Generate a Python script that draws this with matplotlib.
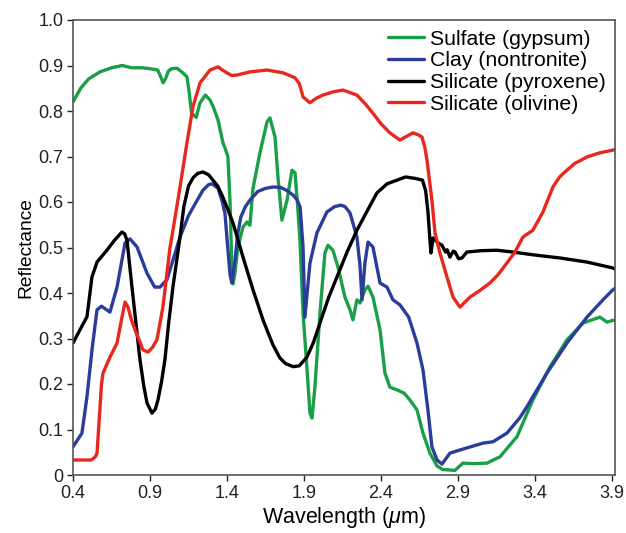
import matplotlib
matplotlib.use("Agg")
import matplotlib.pyplot as plt

plt.rcParams['font.family'] = ['Liberation Sans', 'DejaVu Sans']
plt.rcParams['mathtext.fontset'] = 'custom'
plt.rcParams['mathtext.rm'] = 'Liberation Sans'
plt.rcParams['mathtext.it'] = 'Liberation Sans:italic'

# Sulfate (gypsum)
gyp_w = [0.40, 0.45, 0.50, 0.575, 0.65, 0.72, 0.78, 0.85, 0.90, 0.95, 0.97, 0.985, 1.00, 1.02, 1.04,
         1.075, 1.11, 1.14, 1.155, 1.17, 1.20, 1.225, 1.26, 1.29, 1.31, 1.342, 1.374, 1.387, 1.406,
         1.42, 1.432, 1.439, 1.45, 1.471, 1.504, 1.53, 1.549, 1.569, 1.614, 1.66, 1.679, 1.712, 1.731,
         1.757, 1.79, 1.822, 1.842, 1.861, 1.874, 1.894, 1.919, 1.939, 1.952, 1.971, 2.004, 2.036,
         2.056, 2.088, 2.121, 2.166, 2.199, 2.218, 2.244, 2.264, 2.296, 2.316, 2.348, 2.394, 2.426,
         2.458, 2.504, 2.55, 2.588, 2.634, 2.673, 2.718, 2.764, 2.80, 2.848, 2.88, 2.932, 3.0, 3.088,
         3.173, 3.283, 3.387, 3.497, 3.608, 3.712, 3.822, 3.868, 3.906, 3.92]
gyp_r = [0.82, 0.85, 0.87, 0.886, 0.895, 0.90, 0.895, 0.895, 0.893, 0.89, 0.875, 0.862, 0.87, 0.888, 0.893,
         0.894, 0.885, 0.875, 0.84, 0.795, 0.786, 0.818, 0.835, 0.824, 0.81, 0.78, 0.73, 0.719, 0.70,
         0.60, 0.45, 0.42, 0.44, 0.501, 0.545, 0.556, 0.549, 0.63, 0.708, 0.776, 0.785, 0.743, 0.655,
         0.56, 0.604, 0.67, 0.664, 0.582, 0.516, 0.356, 0.237, 0.136, 0.125, 0.193, 0.356, 0.488,
         0.505, 0.494, 0.457, 0.391, 0.363, 0.341, 0.385, 0.378, 0.407, 0.415, 0.391, 0.319, 0.224,
         0.193, 0.187, 0.18, 0.165, 0.143, 0.092, 0.048, 0.02, 0.012, 0.011, 0.01, 0.026, 0.025, 0.026,
         0.04, 0.084, 0.165, 0.237, 0.297, 0.334, 0.347, 0.336, 0.34, 0.34]

# Clay (nontronite)
non_w = [0.40, 0.458, 0.49, 0.525, 0.556, 0.585, 0.64, 0.686, 0.738, 0.77, 0.816, 0.88, 0.93, 0.965,
         1.01, 1.095, 1.15, 1.20, 1.244, 1.28, 1.303, 1.342, 1.37, 1.387, 1.40, 1.42, 1.432, 1.452,
         1.47, 1.49, 1.52, 1.549, 1.60, 1.65, 1.70, 1.75, 1.79, 1.83, 1.855, 1.875, 1.894, 1.906, 1.939,
         1.984, 2.049, 2.10, 2.14, 2.166, 2.199, 2.244, 2.264, 2.277, 2.296, 2.316, 2.348, 2.394, 2.439,
         2.478, 2.523, 2.58, 2.634, 2.673, 2.705, 2.731, 2.764, 2.796, 2.82, 2.848, 2.913, 3.062, 3.127,
         3.218, 3.30, 3.348, 3.478, 3.608, 3.738, 3.842, 3.906, 3.92]
non_r = [0.062, 0.092, 0.17, 0.28, 0.363, 0.371, 0.358, 0.413, 0.51, 0.519, 0.501, 0.444, 0.413, 0.413,
         0.429, 0.523, 0.57, 0.60, 0.626, 0.638, 0.64, 0.63, 0.60, 0.575, 0.52, 0.44, 0.422, 0.472,
         0.53, 0.567, 0.59, 0.604, 0.623, 0.63, 0.633, 0.632, 0.625, 0.615, 0.605, 0.589, 0.501, 0.347, 0.466,
         0.532, 0.578, 0.59, 0.593, 0.59, 0.576, 0.523, 0.46, 0.385, 0.466, 0.512, 0.501, 0.422, 0.413,
         0.385, 0.374, 0.347, 0.29, 0.231, 0.143, 0.062, 0.033, 0.024, 0.035, 0.048, 0.055, 0.07, 0.073,
         0.092, 0.125, 0.15, 0.224, 0.29, 0.347, 0.385, 0.407, 0.41]

# Silicate (pyroxene)
pyr_w = [0.40, 0.445, 0.491, 0.523, 0.556, 0.62, 0.67, 0.718, 0.735, 0.751, 0.765, 0.783, 0.81, 0.835,
         0.86, 0.881, 0.913, 0.935, 0.952, 0.975, 0.997, 1.02, 1.049, 1.075, 1.095, 1.12, 1.15, 1.179,
         1.21, 1.244, 1.28, 1.309, 1.34, 1.374, 1.41, 1.439, 1.504, 1.569, 1.634, 1.67, 1.70, 1.744,
         1.78, 1.83, 1.87, 1.919, 1.96, 2.004, 2.06, 2.114, 2.18, 2.244, 2.31, 2.374, 2.44, 2.504, 2.56,
         2.62, 2.67, 2.69, 2.705, 2.718, 2.725, 2.738, 2.77, 2.796, 2.82, 2.83, 2.848, 2.87, 2.881,
         2.905, 2.926, 2.958, 3.05, 3.153, 3.257, 3.387, 3.562, 3.738, 3.906, 3.92]
pyr_r = [0.29, 0.319, 0.348, 0.435, 0.468, 0.494, 0.516, 0.534, 0.53, 0.516, 0.47, 0.413, 0.33, 0.253,
         0.195, 0.158, 0.136, 0.145, 0.165, 0.205, 0.253, 0.33, 0.413, 0.475, 0.523, 0.59, 0.635, 0.653,
         0.663, 0.666, 0.66, 0.648, 0.635, 0.61, 0.58, 0.554, 0.479, 0.407, 0.341, 0.31, 0.285, 0.257,
         0.245, 0.238, 0.24, 0.259, 0.29, 0.334, 0.39, 0.435, 0.49, 0.538, 0.58, 0.62, 0.64, 0.648, 0.655,
         0.652, 0.648, 0.625, 0.58, 0.516, 0.488, 0.521, 0.51, 0.505, 0.49, 0.495, 0.479, 0.492, 0.49,
         0.475, 0.477, 0.49, 0.493, 0.494, 0.49, 0.484, 0.477, 0.468, 0.455, 0.453]

# Silicate (olivine)
oli_w = [0.40, 0.52, 0.545, 0.556, 0.57, 0.585, 0.595, 0.64, 0.686, 0.718, 0.738, 0.757, 0.78, 0.803,
         0.855, 0.887, 0.915, 0.945, 0.984, 1.03, 1.06, 1.095, 1.14, 1.179, 1.225, 1.29, 1.342, 1.37,
         1.40, 1.43, 1.465, 1.549, 1.66, 1.764, 1.842, 1.87, 1.894, 1.939, 1.98, 2.023, 2.088, 2.153,
         2.244, 2.30, 2.348, 2.40, 2.458, 2.523, 2.57, 2.608, 2.64, 2.666, 2.685, 2.699, 2.731, 2.751,
         2.783, 2.829, 2.868, 2.913, 2.978, 3.04, 3.108, 3.16, 3.218, 3.27, 3.322, 3.387, 3.452, 3.517,
         3.56, 3.608, 3.66, 3.738, 3.82, 3.906, 3.92]
oli_r = [0.033, 0.033, 0.04, 0.048, 0.12, 0.20, 0.224, 0.259, 0.29, 0.347, 0.38, 0.369, 0.34, 0.319,
         0.275, 0.27, 0.28, 0.297, 0.369, 0.50, 0.56, 0.633, 0.73, 0.809, 0.862, 0.89, 0.897, 0.89,
         0.884, 0.878, 0.879, 0.886, 0.89, 0.884, 0.873, 0.86, 0.831, 0.818, 0.828, 0.835, 0.842, 0.846,
         0.835, 0.815, 0.795, 0.772, 0.752, 0.736, 0.745, 0.752, 0.748, 0.743, 0.72, 0.692, 0.604, 0.532,
         0.488, 0.435, 0.391, 0.369, 0.391, 0.405, 0.422, 0.44, 0.466, 0.49, 0.523, 0.538, 0.578, 0.633,
         0.655, 0.67, 0.685, 0.699, 0.708, 0.714, 0.715]

labels = ['Sulfate (gypsum)', 'Clay (nontronite)', 'Silicate (pyroxene)', 'Silicate (olivine)']
colors = ['#1a9e48', '#2b3d98', '#000000', '#e8281e']

xticks = [0.4, 0.9, 1.4, 1.9, 2.4, 2.9, 3.4, 3.9]
xticklabels = ['0.4', '0.9', '1.4', '1.9', '2.4', '2.9', '3.4', '3.9']
yticks = [0, 0.1, 0.2, 0.3, 0.4, 0.5, 0.6, 0.7, 0.8, 0.9, 1.0]
yticklabels = ['0', '0.1', '0.2', '0.3', '0.4', '0.5', '0.6', '0.7', '0.8', '0.9', '1.0']

fig = plt.figure(figsize=(6.26, 5.33), dpi=100)
ax = fig.add_axes([73/626, 58/533, 542/626, 455/533])

series = [(gyp_w, gyp_r), (non_w, non_r), (pyr_w, pyr_r), (oli_w, oli_r)]
for (w, r), lab, c in zip(series, labels, colors):
    ax.plot(w, r, color=c, lw=2.4, label=lab, solid_joinstyle='round', solid_capstyle='round')

ax.set_xlim(0.4, 3.92)
ax.set_ylim(0, 1.0)
ax.set_xticks(xticks)
ax.set_xticklabels(xticklabels)
ax.set_yticks(yticks)
ax.set_yticklabels(yticklabels)
ax.tick_params(axis='both', labelsize=13, direction='out', length=4, width=1, colors='#222222', pad=3)
for s in ax.spines.values():
    s.set_color('#555555')
    s.set_linewidth(1.2)

ax.set_xlabel('Wavelength ($\\mu$m)', fontsize=15.5, labelpad=2)
ax.set_ylabel('Reflectance', fontsize=13.8, labelpad=3)

leg = ax.legend(loc='upper right', bbox_to_anchor=(1.0, 1.0), frameon=False, fontsize=15.3,
                handlelength=1.7, handletextpad=0.25, labelspacing=0.13, borderaxespad=0.05)

fig.savefig('out.png', dpi=100)
